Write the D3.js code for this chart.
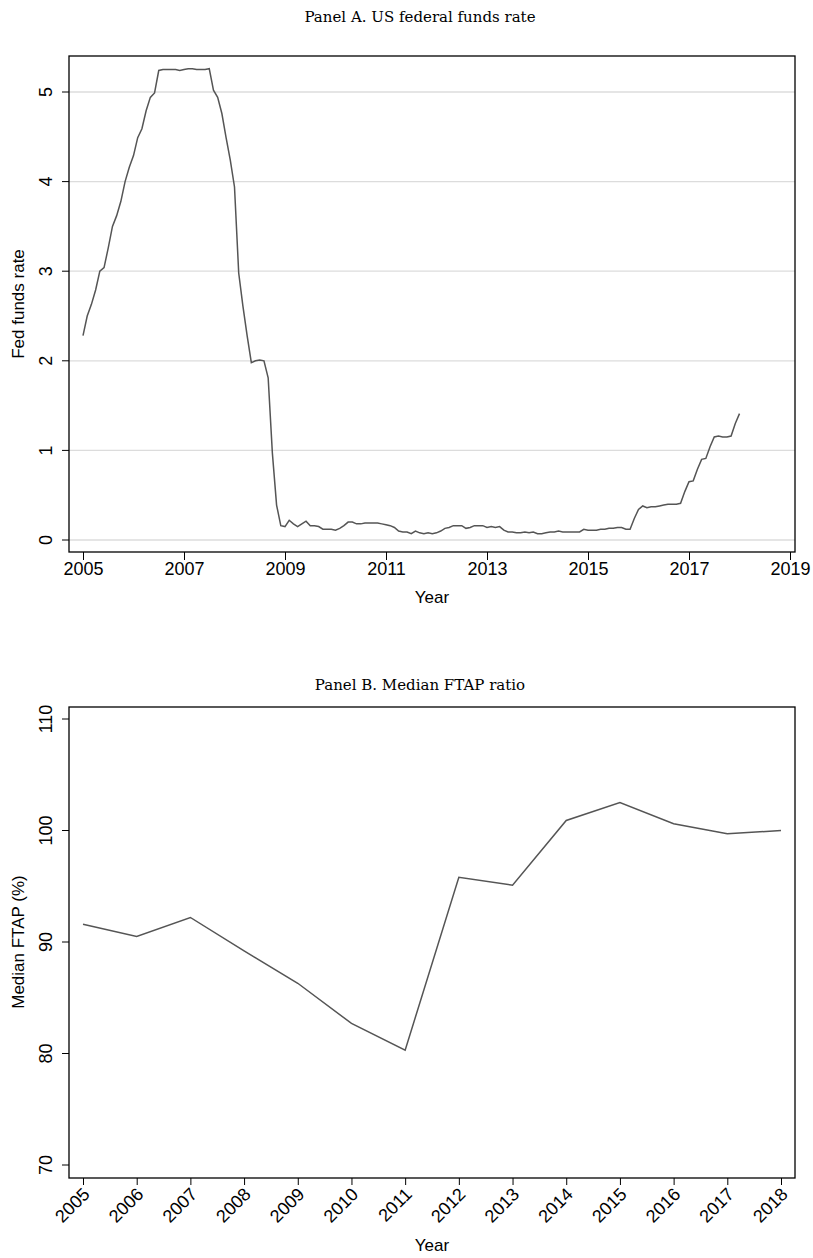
<!DOCTYPE html>
<html><head><meta charset="utf-8">
<script src="https://cdn.jsdelivr.net/npm/d3@7"></script>
<style>body{margin:0;background:#fff}</style></head>
<body><svg id="c" width="813" height="1258"></svg>
<script>
const ffrStartYear = 2005;
const ffrMonthly = [
2.28,2.50,2.63,2.79,3.00,3.04,3.26,3.50,3.62,3.78,4.00,4.16,
4.29,4.49,4.59,4.79,4.94,4.99,5.24,5.25,5.25,5.25,5.25,5.24,
5.25,5.26,5.26,5.25,5.25,5.25,5.26,5.02,4.94,4.76,4.49,4.24,
3.94,2.98,2.61,2.28,1.98,2.00,2.01,2.00,1.81,0.97,0.39,0.16,
0.15,0.22,0.18,0.15,0.18,0.21,0.16,0.16,0.15,0.12,0.12,0.12,
0.11,0.13,0.16,0.20,0.20,0.18,0.18,0.19,0.19,0.19,0.19,0.18,
0.17,0.16,0.14,0.10,0.09,0.09,0.07,0.10,0.08,0.07,0.08,0.07,
0.08,0.10,0.13,0.14,0.16,0.16,0.16,0.13,0.14,0.16,0.16,0.16,
0.14,0.15,0.14,0.15,0.11,0.09,0.09,0.08,0.08,0.09,0.08,0.09,
0.07,0.07,0.08,0.09,0.09,0.10,0.09,0.09,0.09,0.09,0.09,0.12,
0.11,0.11,0.11,0.12,0.12,0.13,0.13,0.14,0.14,0.12,0.12,0.24,
0.34,0.38,0.36,0.37,0.37,0.38,0.39,0.40,0.40,0.40,0.41,0.54,
0.65,0.66,0.79,0.90,0.91,1.04,1.15,1.16,1.15,1.15,1.16,1.30,
1.41];
const aXTicks = [2005,2007,2009,2011,2013,2015,2017,2019];
const aYTicks = [0,1,2,3,4,5];
const ftapYears = [2005,2006,2007,2008,2009,2010,2011,2012,2013,2014,2015,2016,2017,2018];
const ftapMedian = [91.6,90.5,92.2,89.2,86.3,82.7,80.3,95.8,95.1,100.9,102.5,100.6,99.7,100.0];
const bYTicks = [70,80,90,100,110];

const svg = d3.select("#c");
const sans = "'Liberation Sans', Arial, sans-serif";
const serif = "'DejaVu Serif', 'Liberation Serif', serif";
const lineCol = "#555";
const TS = "18px";

function frame(L,R,T,B){
  svg.append("rect").attr("x",L).attr("y",T).attr("width",R-L).attr("height",B-T)
    .attr("fill","none").attr("stroke","#000").attr("stroke-width",1.3);
}
function yAxis(y,ticks,L){
  const gy=svg.append("g").attr("transform",`translate(${L},0)`)
    .call(d3.axisLeft(y).tickValues(ticks).tickFormat(d3.format("d")).tickSize(7));
  gy.select(".domain").remove();
  gy.selectAll(".tick").attr("transform","translate(0,0)");
  gy.selectAll(".tick line").attr("y1",d=>y(d)).attr("y2",d=>y(d)).attr("stroke","#000");
  gy.selectAll("text").style("font-family",sans).style("font-size",TS).attr("fill","#000")
    .attr("text-anchor","middle").attr("dy","0").attr("x",0).attr("y",0)
    .attr("transform",d=>`translate(-17,${y(d)}) rotate(-90)`);
}
// Panel A
{
  const L=69,R=795,T=56,B=552;
  const x=d3.scaleLinear().domain([2005,2019]).range([83,790]);
  const y=d3.scaleLinear().domain([0,5]).range([540,92]);
  svg.append("g").selectAll("line").data(aYTicks).join("line")
    .attr("x1",L).attr("x2",R).attr("y1",d=>y(d)).attr("y2",d=>y(d))
    .attr("stroke","#dcdcdc").attr("stroke-width",1.3);
  const pts=ffrMonthly.map((v,i)=>[ffrStartYear+i/12,v]);
  svg.append("path").datum(pts).attr("fill","none").attr("stroke",lineCol).attr("stroke-width",1.5)
    .attr("d",d3.line().x(d=>x(d[0])).y(d=>y(d[1])));
  frame(L,R,T,B);
  const gx=svg.append("g").attr("transform",`translate(0,${B})`)
    .call(d3.axisBottom(x).tickValues(aXTicks).tickFormat(d3.format("d")).tickSize(8).tickPadding(2));
  gx.select(".domain").remove();
  gx.selectAll("text").style("font-family",sans).style("font-size",TS).attr("fill","#000");
  yAxis(y,aYTicks,L);
  svg.append("text").attr("x",420).attr("y",22).attr("text-anchor","middle")
    .style("font-family",serif).style("font-size","15px").text("Panel A. US federal funds rate");
  svg.append("text").attr("transform","translate(24,304) rotate(-90)").attr("text-anchor","middle")
    .style("font-family",sans).style("font-size","17px").text("Fed funds rate");
  svg.append("text").attr("x",432).attr("y",603).attr("text-anchor","middle")
    .style("font-family",sans).style("font-size","17px").text("Year");
}
// Panel B
{
  const L=69,R=795,T=707,B=1178;
  const x=d3.scaleLinear().domain([2005,2018]).range([83,781]);
  const y=d3.scaleLinear().domain([70,110]).range([1165,719]);
  svg.append("path").datum(ftapYears.map((yr,i)=>[yr,ftapMedian[i]])).attr("fill","none")
    .attr("stroke",lineCol).attr("stroke-width",1.5)
    .attr("d",d3.line().x(d=>x(d[0])).y(d=>y(d[1])));
  frame(L,R,T,B);
  const gx=svg.append("g").attr("transform",`translate(0,${B})`)
    .call(d3.axisBottom(x).tickValues(ftapYears).tickFormat(d3.format("d")).tickSize(7));
  gx.select(".domain").remove();
  gx.selectAll("text").style("font-family",sans).style("font-size",TS).attr("fill","#000")
    .attr("text-anchor","end").attr("dy","0").attr("y",0).attr("dominant-baseline","middle")
    .attr("transform","translate(4,14) rotate(-45)");
  yAxis(y,bYTicks,L);
  svg.append("text").attr("x",420).attr("y",690).attr("text-anchor","middle")
    .style("font-family",serif).style("font-size","15px").text("Panel B. Median FTAP ratio");
  svg.append("text").attr("transform","translate(24,942) rotate(-90)").attr("text-anchor","middle")
    .style("font-family",sans).style("font-size","17px").text("Median FTAP (%)");
  svg.append("text").attr("x",432).attr("y",1251).attr("text-anchor","middle")
    .style("font-family",sans).style("font-size","17px").text("Year");
}
</script></body></html>
